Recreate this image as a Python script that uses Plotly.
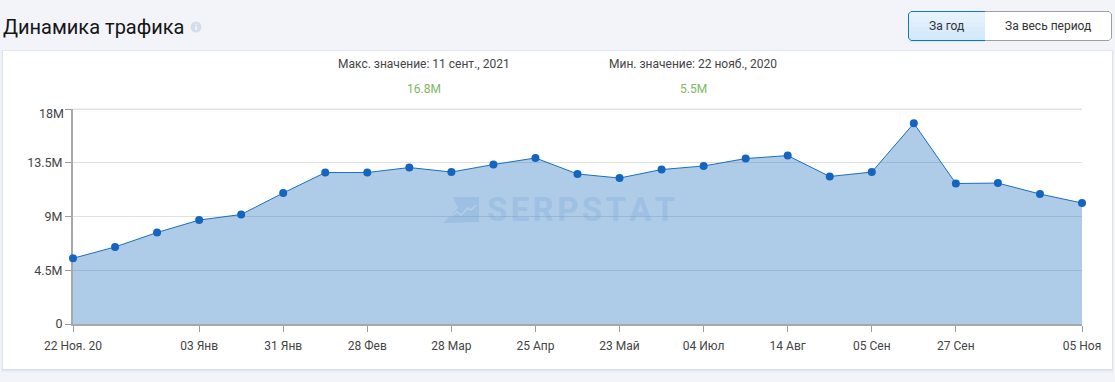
import plotly.graph_objects as go

dates = ["22 Ноя. 20", "06 Дек", "20 Дек", "03 Янв", "17 Янв", "31 Янв", "14 Фев", "28 Фев",
         "14 Мар", "28 Мар", "11 Апр", "25 Апр", "09 Май", "23 Май", "13 Июн", "04 Июл",
         "25 Июл", "14 Авг", "25 Авг", "05 Сен", "11 Сен", "27 Сен", "07 Окт", "21 Окт", "05 Ноя"]
traffic = [5.5, 6.45, 7.66, 8.7, 9.17, 10.97, 12.68, 12.68, 13.1, 12.72, 13.35, 13.9, 12.56,
           12.22, 12.93, 13.23, 13.85, 14.1, 12.35, 12.72, 16.8, 11.76, 11.8, 10.88, 10.13]
x_ticks = ["22 Ноя. 20", "03 Янв", "31 Янв", "28 Фев", "28 Мар", "25 Апр", "23 Май",
           "04 Июл", "14 Авг", "05 Сен", "27 Сен", "05 Ноя"]
y_ticks = [0, 4.5, 9, 13.5, 18]
y_labels = ["0", "4.5M", "9M", "13.5M", ""]

W, H = 1115, 382
L, R, T, B = 73, 1082, 109, 324
FONT = "Roboto"


def px(x):
    return (x - L) / (R - L)


def py(y):
    return (B - y) / (B - T)


def rect(x0, y0, x1, y1, fill, line=None, width=0, layer="below"):
    return dict(type="rect", xref="paper", yref="paper", x0=px(x0), x1=px(x1), y0=py(y1), y1=py(y0),
                fillcolor=fill, line=dict(color=line or fill, width=width), layer=layer)


def path(points, fill=None, line=None, width=0, layer="below"):
    d = "M" + " L".join(f"{px(a):.5f},{py(b):.5f}" for a, b in points)
    if fill:
        d += " Z"
    return dict(type="path", xref="paper", yref="paper", path=d, fillcolor=fill or "rgba(0,0,0,0)",
                line=dict(color=line or "rgba(0,0,0,0)", width=width), layer=layer)


def text(x, y, s, size=12, color="#444444", anchor="center", **kw):
    return dict(xref="paper", yref="paper", x=px(x), y=py(y), text=s, showarrow=False, xanchor=anchor,
                yanchor="middle", font=dict(family=FONT, size=size, color=color), **kw)


shapes = []
# card shadow
for i, c in enumerate(["#f0f2f8", "#eaedf5", "#e2e6f1", "#d8deeb"]):
    g = 4 - i
    shapes.append(rect(3 - g / 2, 51 - g / 4, 1112 + g / 2, 369 + g, c))
shapes.append(rect(3, 51, 1112, 369, "#ffffff"))

# buttons
bands = ["#e6f3fe", "#e2f1fd", "#deeefd", "#daecfc", "#d6eafb", "#d2e8fb"]
for i, c in enumerate(bands):
    shapes.append(rect(909, 12 + i * 5, 985, 12 + (i + 1) * 5, c))
shapes.append(rect(985, 11.5, 1111.5, 40.5, "#ffffff"))
shapes.append(path([(985, 11.5), (1109, 11.5), (1111.5, 14), (1111.5, 38), (1109, 40.5), (985, 40.5)],
                   line="#9e9e9e", width=1))
shapes.append(path([(985, 11.5), (911, 11.5), (908.5, 14), (908.5, 38), (911, 40.5), (985, 40.5)],
                   line="#1a73c0", width=1))

# info icon
shapes.append(dict(type="circle", xref="paper", yref="paper", x0=px(190.5), x1=px(201.5), y0=py(32.5), y1=py(21.5),
                   fillcolor="#d5dcea", line=dict(width=0), layer="below"))

# heavier top grid line
shapes.append(rect(L, 108.5, R, 110, "#e2e2e2"))

# watermark logo
wm = "rgba(120,165,215,0.30)"
shapes.append(path([(453, 197), (479, 197), (479, 222), (443, 223), (458, 208)], fill=wm, layer="above"))
shapes.append(path([(451, 216), (457, 212), (461, 215), (468, 208), (471, 210), (476, 205)],
                   line="rgba(190,215,240,0.7)", width=1.5, layer="above"))

annotations = [
    text(1, 27, "Динамика трафика", size=20, color="#151515", anchor="left"),
    text(196, 27, "<b>i</b>", size=8, color="#ffffff"),
    text(946, 26, "За год", size=12, color="#333333"),
    text(1048, 26, "За весь период", size=12, color="#333333"),
    text(423.5, 64, "Макс. значение: 11 сент., 2021", size=12),
    text(693, 64, "Мин. значение: 22 нояб., 2020", size=12),
    text(423.5, 89, "16.8M", size=12, color="#7cb961"),
    text(693, 89, "5.5M", size=12, color="#7cb961"),
    text(65.5, 113, "18M", size=12.5, anchor="right"),
    text(580.5, 209.5, "<b>S\u200aE\u200aR\u200aP\u200aS\u200aT\u200aA\u200aT</b>", size=33, color=wm),
]

fig = go.Figure(go.Scatter(
    x=dates, y=traffic, mode="lines+markers", fill="tozeroy",
    fillcolor="rgba(24,105,186,0.35)",
    line=dict(color="#1a6fc0", width=1),
    marker=dict(color="#1565c0", size=8),
    cliponaxis=False, hoverinfo="skip",
))
fig.update_layout(
    width=W, height=H, autosize=False,
    margin=dict(l=L, r=W - R, t=T, b=H - B),
    paper_bgcolor="#f2f4f9", plot_bgcolor="rgba(0,0,0,0)",
    showlegend=False, shapes=shapes, annotations=annotations,
    font=dict(family=FONT, size=12, color="#444444"),
    xaxis=dict(type="category", categoryorder="array", categoryarray=dates, range=[0, 24],
               tickmode="array", tickvals=x_ticks, ticktext=x_ticks, ticks="outside", ticklen=6, tickwidth=1,
               tickcolor="#9e9e9e", showgrid=False, showline=True, linecolor="#a8a8a8", linewidth=2,
               tickfont=dict(family=FONT, size=12, color="#444444"), zeroline=False, ticklabelstandoff=4),
    yaxis=dict(range=[0, 18], tickmode="array", tickvals=y_ticks, ticktext=y_labels, ticks="outside", ticklen=6,
               tickwidth=1, tickcolor="#9e9e9e", showgrid=True, gridcolor="#e0e0e0", gridwidth=1,
               showline=True, linecolor="#a8a8a8", linewidth=2, zeroline=False, layer="below traces",
               tickfont=dict(family=FONT, size=12.5, color="#444444")),
)
fig.write_html("out.html", config=dict(displayModeBar=False),
               post_script="document.body.style.margin='0';document.body.style.overflow='hidden';")
